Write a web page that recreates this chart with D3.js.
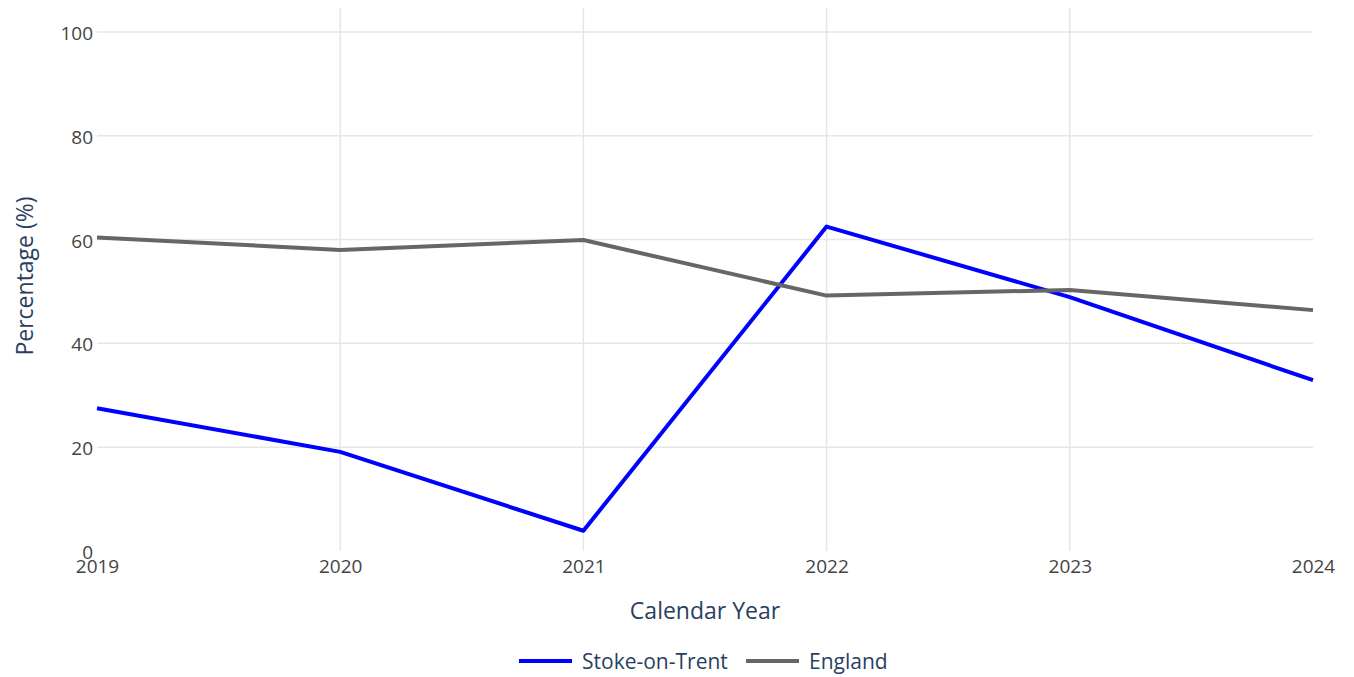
<!DOCTYPE html>
<html><head><meta charset="utf-8">
<script src="https://cdn.jsdelivr.net/npm/d3@7"></script>
<style>body{margin:0;background:#fff;} svg{display:block;font-family:"Open Sans",Lato,sans-serif;}</style>
</head><body>
<svg id="c" width="1354" height="677"></svg>
<script>
const years = [2019, 2020, 2021, 2022, 2023, 2024];
const stoke = [27.5, 19.1, 3.9, 62.5, 48.9, 32.9];
const england = [60.4, 58.0, 59.9, 49.2, 50.3, 46.4];
const yTicks = [0, 20, 40, 60, 80, 100];
const seriesNames = ["Stoke-on-Trent", "England"];
const seriesColors = ["#0000ff", "#666666"];

const FONT = "'Open Sans',Lato,sans-serif";
const svg = d3.select("#c");
const L = 97, R = 1313, T = 8, B = 551;
const x = d3.scaleLinear().domain([2019, 2024]).range([L, R]);
const y = d3.scaleLinear().domain([0, 104.6]).range([B, T]);

// grid
const g = svg.append("g");
g.selectAll(".hg").data(yTicks.filter(d => d > 0)).join("line")
  .attr("x1", L).attr("x2", R).attr("y1", d => y(d)).attr("y2", d => y(d))
  .attr("stroke", "#e6e6e6").attr("stroke-width", 1.5);
g.selectAll(".vg").data(years.slice(1, -1)).join("line")
  .attr("x1", d => x(d)).attr("x2", d => x(d)).attr("y1", T).attr("y2", B)
  .attr("stroke", "#e6e6e6").attr("stroke-width", 1.5);

// axes
const yAxis = d3.axisLeft(y).tickValues(yTicks).tickSize(0).tickPadding(3);
const ya = svg.append("g").attr("transform", `translate(${L - 1},0)`).call(yAxis);
ya.select(".domain").remove();
ya.selectAll("text").attr("font-size", 19).attr("fill", "#444").attr("font-family", FONT)
  .attr("dy", null).attr("dominant-baseline", "auto").attr("y", 7.5);

const xAxis = d3.axisBottom(x).tickValues(years).tickFormat(d3.format("d")).tickSize(0).tickPadding(8.5);
const xa = svg.append("g").attr("transform", `translate(0,${B})`).call(xAxis);
xa.select(".domain").remove();
xa.selectAll("text").attr("font-size", 19).attr("fill", "#444").attr("font-family", FONT);

// lines
const line = d3.line().x((d, i) => x(years[i])).y(d => y(d));
[stoke, england].forEach((s, k) => {
  svg.append("path").datum(s).attr("d", line).attr("fill", "none")
    .attr("stroke", seriesColors[k]).attr("stroke-width", 4).attr("stroke-linejoin", "round");
});

// axis titles
svg.append("text").attr("x", 705).attr("y", 619).attr("text-anchor", "middle")
  .attr("font-size", 23).attr("fill", "#2a3f5f").text("Calendar Year");
svg.append("text").attr("transform", "translate(33,276) rotate(-90)").attr("text-anchor", "middle")
  .attr("font-size", 23).attr("fill", "#2a3f5f").text("Percentage (%)");

// legend
const legX = [519, 746];
seriesNames.forEach((n, k) => {
  svg.append("line").attr("x1", legX[k]).attr("x2", legX[k] + 53).attr("y1", 661).attr("y2", 661)
    .attr("stroke", seriesColors[k]).attr("stroke-width", 4);
  svg.append("text").attr("x", legX[k] + 63).attr("y", 669).attr("font-size", 21)
    .attr("fill", "#2a3f5f").text(n);
});
</script>
</body></html>
